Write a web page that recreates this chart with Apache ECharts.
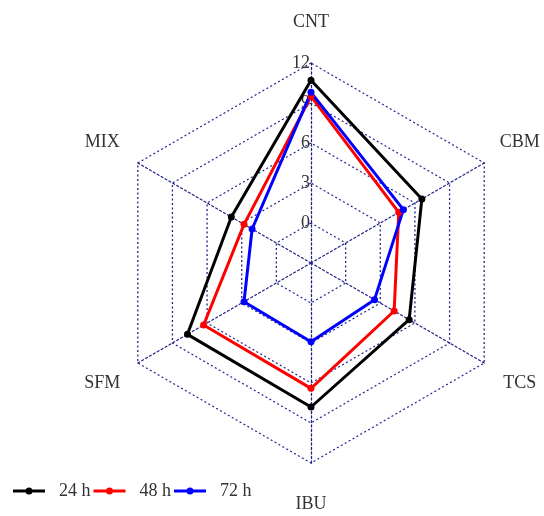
<!DOCTYPE html>
<html>
<head>
<meta charset="utf-8">
<script src="https://cdn.jsdelivr.net/npm/echarts@6/dist/echarts.min.js"></script>
<style>
  html, body { margin: 0; padding: 0; background: #fff; }
  #chart { width: 544px; height: 516px; }
</style>
</head>
<body>
<div id="chart"></div>
<script>
// axes in the order ECharts lays them out (counter-clockwise from the top)
const indicators = ['CNT', 'MIX', 'SFM', 'IBU', 'TCS', 'CBM'];
const seriesNames = ['24 h', '48 h', '72 h'];
const colors = ['#000000', '#ff0000', '#0000ff'];

const h24 = [10.7, 3.9, 7.7, 7.8, 5.5, 6.6];
const h48 = [9.5, 2.8, 6.3, 6.4, 4.2, 4.6];
const h72 = [9.8, 2.1, 2.8, 2.9, 2.5, 5.0];

const axisMin = -3;
const axisMax = 12;

const font = 'Liberation Serif';
const gridColor = '#22228c';

// legend icon: a line with a dot in the middle (same winding so the dot stays filled)
const lineDotIcon = 'path://M0,3.6 L32,3.6 L32,6.4 L0,6.4 Z M12.5,5 A3.5,3.5 0 1,1 19.5,5 A3.5,3.5 0 1,1 12.5,5 Z';

const chart = echarts.init(document.getElementById('chart'));

chart.setOption({
  animation: false,
  legend: {
    left: 8,
    top: 477,
    itemWidth: 32,
    itemHeight: 10,
    itemGap: 3,
    icon: lineDotIcon,
    textStyle: { fontFamily: font, fontSize: 18, color: '#333', padding: [0, 0, 0, 9] },
    data: seriesNames
  },
  radar: {
    center: [311, 263],
    radius: 200,
    startAngle: 90,
    splitNumber: 5,
    shape: 'polygon',
    axisName: {
      color: '#333',
      fontFamily: font,
      fontSize: 18,
      align: 'center',
      verticalAlign: 'middle'
    },
    nameGap: 41,
    indicator: indicators.map((name, i) => ({
      name,
      min: axisMin,
      max: axisMax,
      axisLabel: i === 0 ? {
        show: true,
        fontFamily: font,
        fontSize: 18,
        color: '#333',
        margin: 1,
        formatter: v => (v < 0 ? '' : v)
      } : { show: false }
    })),
    axisLine: { lineStyle: { color: gridColor, type: [2, 2.5], width: 1.3 } },
    splitLine: { lineStyle: { color: gridColor, type: [2, 2.5], width: 1.3 } },
    splitArea: { show: false },
    axisTick: { show: false }
  },
  series: [{
    type: 'radar',
    symbol: 'circle',
    symbolSize: 7,
    lineStyle: { width: 3 },
    data: [h24, h48, h72].map((vals, k) => ({
      name: seriesNames[k],
      value: vals,
      itemStyle: { color: colors[k] },
      lineStyle: { color: colors[k], width: 3 }
    }))
  }]
});
</script>
</body>
</html>
